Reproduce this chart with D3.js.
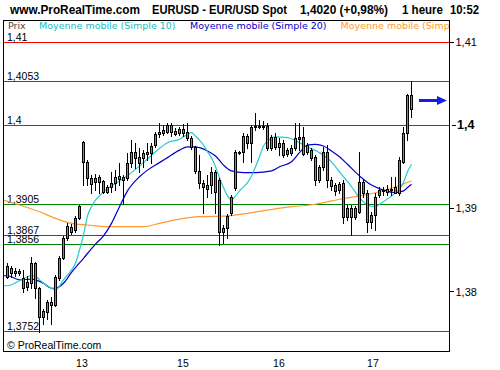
<!DOCTYPE html>
<html><head><meta charset="utf-8">
<script src="https://cdn.jsdelivr.net/npm/d3@7"></script>
<style>body{margin:0;background:#fff}svg{display:block}</style>
</head><body>
<svg id="c" width="500" height="370"></svg>
<script>
// ---- data (EUR/USD hourly candles) ----
const opens = [1.3818,1.3828,1.3825,1.3822,1.3816,1.3812,1.3810,1.3834,1.3804,1.3769,
1.3776,1.3788,1.3784,1.3816,1.3840,1.3864,1.3878,1.3874,1.3888,1.3980,
1.3956,1.3937,1.3932,1.3938,1.3933,1.3920,1.3931,1.3931,1.3939,1.3938,
1.3937,1.3955,1.3968,1.3962,1.3961,1.3965,1.3967,1.3976,1.3989,1.3991,
1.3992,1.4000,1.3993,1.3991,1.3995,1.3992,1.3985,1.3974,1.3945,1.3931,
1.3923,1.3928,1.3944,1.3934,1.3872,1.3876,1.3894,1.3925,1.3967,1.3968,
1.3987,1.3979,1.3998,1.3999,1.3998,1.3999,1.3973,1.3986,1.3979,1.3979,
1.3970,1.3967,1.3985,1.3986,1.3986,1.3976,1.3970,1.3962,1.3934,1.3950,
1.3968,1.3934,1.3928,1.3922,1.3931,1.3890,1.3901,1.3890,1.3896,1.3932,
1.3919,1.3884,1.3892,1.3916,1.3921,1.3920,1.3922,1.3919,1.3919,1.3956,
1.3991,1.4036];
const highs = [1.3834,1.3831,1.3828,1.3827,1.3826,1.3819,1.3842,1.3836,1.3806,1.3779,
1.3790,1.3794,1.3820,1.3843,1.3867,1.3882,1.3881,1.3891,1.3904,1.3981,
1.3958,1.3940,1.3941,1.3940,1.3934,1.3928,1.3944,1.3946,1.3955,1.3940,
1.3967,1.3982,1.3979,1.3973,1.3970,1.3979,1.3979,1.3992,1.4003,1.4000,
1.4003,1.4003,1.3997,1.3998,1.4001,1.4003,1.3987,1.3975,1.3964,1.3934,
1.3940,1.3950,1.3946,1.3937,1.3880,1.3893,1.3916,1.3970,1.3969,1.3991,
1.3989,1.4000,1.4015,1.4006,1.4005,1.4003,1.3988,1.3991,1.3985,1.3982,
1.3973,1.3976,1.4003,1.4003,1.3998,1.3979,1.3973,1.3964,1.3952,1.3974,
1.3976,1.3938,1.3931,1.3932,1.3934,1.3904,1.3904,1.3903,1.3968,1.3934,
1.3922,1.3896,1.3919,1.3926,1.3926,1.3928,1.3938,1.3938,1.3962,1.3998,
1.4038,1.4053];
const lows = [1.3816,1.3818,1.3819,1.3820,1.3800,1.3802,1.3804,1.3792,1.3752,1.3761,
1.3767,1.3761,1.3783,1.3814,1.3839,1.3862,1.3869,1.3872,1.3887,1.3928,
1.3928,1.3919,1.3922,1.3919,1.3919,1.3919,1.3920,1.3922,1.3928,1.3905,
1.3934,1.3950,1.3949,1.3944,1.3950,1.3958,1.3955,1.3974,1.3986,1.3988,
1.3991,1.3987,1.3988,1.3988,1.3987,1.3982,1.3971,1.3943,1.3925,1.3894,
1.3914,1.3919,1.3894,1.3856,1.3858,1.3864,1.3892,1.3922,1.3965,1.3956,
1.3973,1.3956,1.3994,1.3997,1.3995,1.3970,1.3970,1.3971,1.3964,1.3962,
1.3963,1.3964,1.3970,1.3970,1.3964,1.3965,1.3958,1.3928,1.3932,1.3946,
1.3926,1.3922,1.3916,1.3919,1.3882,1.3886,1.3868,1.3887,1.3894,1.3914,
1.3872,1.3876,1.3874,1.3914,1.3916,1.3916,1.3916,1.3919,1.3916,1.3955,
1.3982,1.4010];
const closes = [1.3831,1.3822,1.3822,1.3825,1.3804,1.3806,1.3834,1.3804,1.3769,1.3777,
1.3788,1.3784,1.3818,1.3840,1.3864,1.3879,1.3872,1.3888,1.3903,1.3956,
1.3937,1.3929,1.3937,1.3932,1.3920,1.3926,1.3926,1.3938,1.3935,1.3934,
1.3955,1.3968,1.3961,1.3955,1.3967,1.3968,1.3975,1.3989,1.3992,1.3994,
1.4000,1.3992,1.3989,1.3995,1.3991,1.3985,1.3974,1.3945,1.3931,1.3926,
1.3928,1.3944,1.3920,1.3872,1.3876,1.3891,1.3914,1.3968,1.3968,1.3987,
1.3979,1.3998,1.3999,1.3998,1.3999,1.3973,1.3986,1.3974,1.3974,1.3964,
1.3965,1.3973,1.3973,1.3983,1.3965,1.3968,1.3961,1.3934,1.3950,1.3968,
1.3934,1.3927,1.3921,1.3929,1.3890,1.3901,1.3890,1.3901,1.3932,1.3919,
1.3884,1.3892,1.3914,1.3922,1.3922,1.3923,1.3923,1.3926,1.3958,1.3991,
1.4036,1.4020];

// moving averages: [candle index, price]
const ma10 = [[-1,1.3807],[0,1.3807],[3,1.3813],[6,1.3819],[7,1.3818],[9,1.3810],[11,1.3804],[12,1.3802],
[14,1.3814],[15,1.3820],[16,1.3826],[17,1.3834],[18,1.3850],[19,1.3868],[20,1.3891],[21,1.3902],
[22,1.3910],[23,1.3915],[24,1.3920],[26,1.3927],[28,1.3933],[31,1.3943],[34,1.3955],[37,1.3968],
[40,1.3979],[43,1.3983],[45,1.3989],[46,1.3991],[47,1.3987],[48,1.3982],[49,1.3976],[50,1.3968],
[51,1.3961],[52,1.3950],[53,1.3937],[54,1.3925],[55,1.3915],[56,1.3910],[57,1.3915],[58,1.3921],
[60,1.3931],[61,1.3939],[62,1.3950],[63,1.3962],[64,1.3975],[65,1.3981],[67,1.3986],[70,1.3985],
[73,1.3979],[75,1.3974],[78,1.3967],[81,1.3956],[83,1.3944],[86,1.3926],[88,1.3913],[90,1.3904],
[92,1.3902],[93,1.3905],[96,1.3915],[97,1.3919],[99,1.3931],[100,1.3944],[101,1.3953]];
const ma20 = [[-1,1.3819],[0,1.3819],[3,1.3814],[6,1.3815],[9,1.3810],[11,1.3804],[12,1.3804],[14,1.3810],
[16,1.3823],[19,1.3840],[22,1.3857],[24,1.3867],[26,1.3882],[28,1.3902],[30,1.3921],[33,1.3938],
[35,1.3946],[38,1.3955],[40,1.3961],[43,1.3970],[45,1.3974],[47,1.3974],[48,1.3973],[50,1.3969],
[52,1.3963],[54,1.3952],[56,1.3945],[59,1.3943],[62,1.3943],[66,1.3945],[68,1.3950],[71,1.3956],
[73,1.3967],[75,1.3976],[77,1.3977],[79,1.3975],[81,1.3969],[83,1.3962],[85,1.3953],[88,1.3939],
[91,1.3928],[94,1.3922],[97,1.3919],[99,1.3921],[100,1.3925],[101,1.3929]];
const maLong = [[-1,1.3910],[3,1.3904],[8,1.3896],[12,1.3888],[16,1.3882],[20,1.3880],[25,1.3878],
[30,1.3878],[34,1.3878],[38,1.3882],[43,1.3887],[48,1.3890],[55,1.3891],[60,1.3894],[65,1.3898],
[71,1.3902],[77,1.3905],[83,1.3911],[88,1.3915],[93,1.3920],[97,1.3926],[101,1.3933]];

const redLevels = [1.41, 1.4053];
const greenLevels = [1.4, 1.3905, 1.3867, 1.3856, 1.3752];
const yTicks = [1.41, 1.4, 1.39, 1.38];
const boldTick = 1.4;
const dayLabels = ["13","15","16","17"];
const dayPos = [18.6, 43.85, 67.85, 91.35];
const arrowLevel = 1.4030;
const legendItems = ["Prix","Moyenne mobile (Simple 10)","Moyenne mobile (Simple 20)","Moyenne mobile (Simple 100)"];
const headerItems = ["www.ProRealTime.com","EURUSD - EUR/USD Spot","1,4020 (+0,98%)","1 heure","10:52"];

// ---- drawing ----
const plot = {l:3, t:20, r:449, b:351};
const x = d3.scaleLinear().domain([0,101]).range([7.5,411.5]);
const y = d3.scaleLinear().domain([1.3752,1.41]).range([331.5,42]);
const loc = d3.formatLocale({decimal:",", thousands:".", grouping:[3], currency:["","€"]});
const fmt = loc.format("~f");
const snap = v => Math.floor(v) + 0.5;
const SANS = "'Liberation Sans', Arial, sans-serif";
const VERD = "'DejaVu Sans', Verdana, sans-serif";

const svg = d3.select("#c");
svg.append("rect").attr("width",500).attr("height",370).attr("fill","#fff");
svg.append("defs").append("clipPath").attr("id","clip").append("rect")
  .attr("x",plot.l).attr("y",plot.t).attr("width",plot.r-plot.l).attr("height",plot.b-plot.t);
const g = svg.append("g").attr("clip-path","url(#clip)");

// horizontal levels
const levels = redLevels.map(v=>({v,c:"#ff0000"})).concat(greenLevels.map(v=>({v,c:"#008000"})));
g.selectAll("line.lvl").data(levels).join("line").attr("class","lvl")
  .attr("x1",plot.l).attr("x2",plot.r)
  .attr("y1",d=>snap(y(d.v))).attr("y2",d=>snap(y(d.v)))
  .attr("stroke",d=>d.c).attr("stroke-width",1).attr("shape-rendering","crispEdges");
g.selectAll("text.lvl").data(levels).join("text").attr("class","lvl")
  .attr("x",7).attr("y",d=>Math.floor(y(d.v))-1.5)
  .attr("font-family",SANS).attr("font-size",10.5).attr("fill","#000")
  .text(d=>fmt(d.v));

// moving averages
const line = d3.line().x(d=>x(d[0])).y(d=>y(d[1])).curve(d3.curveMonotoneX);
g.append("path").datum(maLong).attr("d",line).attr("fill","none").attr("stroke","#ff9933").attr("stroke-width",1.2);
g.append("path").datum(ma20).attr("d",line).attr("fill","none").attr("stroke","#0000cc").attr("stroke-width",1.2);
g.append("path").datum(ma10).attr("d",line).attr("fill","none").attr("stroke","#22cccc").attr("stroke-width",1.2);

// candles
const idx = d3.range(opens.length);
const cg = g.append("g").attr("shape-rendering","crispEdges");
cg.selectAll("line.w").data(idx).join("line").attr("class","w")
  .attr("x1",i=>x(i)).attr("x2",i=>x(i))
  .attr("y1",i=>Math.round(y(highs[i]))).attr("y2",i=>Math.round(y(lows[i]))+1)
  .attr("stroke","#000").attr("stroke-width",1);
cg.selectAll("rect.b").data(idx).join("rect").attr("class","b")
  .attr("x",i=>x(i)-1)
  .attr("y",i=>Math.round(y(Math.max(opens[i],closes[i])))+0.5)
  .attr("width",2)
  .attr("height",i=>Math.max(1,Math.round(y(Math.min(opens[i],closes[i])))-Math.round(y(Math.max(opens[i],closes[i])))))
  .attr("fill",i=>closes[i]>=opens[i]?"#22cc22":"#d06868")
  .attr("stroke","#000").attr("stroke-width",1);

// arrow
const ay = Math.round(y(arrowLevel))+0.5;
g.append("line").attr("x1",419).attr("x2",439).attr("y1",ay).attr("y2",ay)
  .attr("stroke","#1a1aee").attr("stroke-width",3);
g.append("path").attr("d",`M437,${ay-4.5}L447,${ay}L437,${ay+4.5}Z`).attr("fill","#1a1aee");

// legend
const legendColors = ["#444","#22bbbb","#0000cc","#ff9933"];
const legendX = [8,39,190,340.5];
g.selectAll("text.leg").data(legendItems).join("text").attr("class","leg")
  .attr("x",(d,i)=>legendX[i]).attr("y",28.5)
  .attr("font-family",VERD).attr("font-size",9.5)
  .attr("fill",(d,i)=>legendColors[i]).text(d=>d);

// copyright
g.append("text").attr("x",7).attr("y",348.5).attr("font-family",SANS).attr("font-size",10.5)
  .attr("fill","#000").text("© ProRealTime.com");

// frame
svg.append("path").attr("d",`M${plot.l+0.5},${plot.t+0.5}H${plot.r+0.5}V${plot.b+0.5}H${plot.l+0.5}Z`)
  .attr("fill","none").attr("stroke","#000").attr("stroke-width",1).attr("shape-rendering","crispEdges");

// right axis
const ax = svg.append("g");
ax.selectAll("line").data(yTicks).join("line")
  .attr("x1",plot.r+1).attr("x2",d=>d===boldTick?456:454)
  .attr("y1",d=>snap(y(d))).attr("y2",d=>snap(y(d)))
  .attr("x1",d=>d===boldTick?452:plot.r+1)
  .attr("stroke","#000").attr("shape-rendering","crispEdges");
ax.selectAll("text").data(yTicks).join("text")
  .attr("x",d=>d===boldTick?457:455.5).attr("y",d=>y(d)+4)
  .attr("font-family",SANS).attr("font-size",d=>d===boldTick?12.5:11)
  .attr("font-weight",d=>d===boldTick?"bold":"normal")
  .attr("fill","#000").text(d=>fmt(d));

// day labels
svg.selectAll("text.day").data(dayLabels).join("text").attr("class","day")
  .attr("x",(d,i)=>x(dayPos[i])).attr("y",366.5).attr("text-anchor","middle")
  .attr("font-family",SANS).attr("font-size",10.5).attr("fill","#000").text(d=>d);

// header
const headerX = [10,152,300,402,450];
const headerLen = [130,135,88,41,29];
svg.selectAll("text.hd").data(headerItems).join("text").attr("class","hd")
  .attr("x",(d,i)=>headerX[i]).attr("y",13.5)
  .attr("textLength",(d,i)=>headerLen[i]).attr("lengthAdjust","spacingAndGlyphs")
  .attr("font-family",SANS).attr("font-size",12.5).attr("font-weight","bold")
  .attr("fill","#000").text(d=>d);
</script>
</body></html>
